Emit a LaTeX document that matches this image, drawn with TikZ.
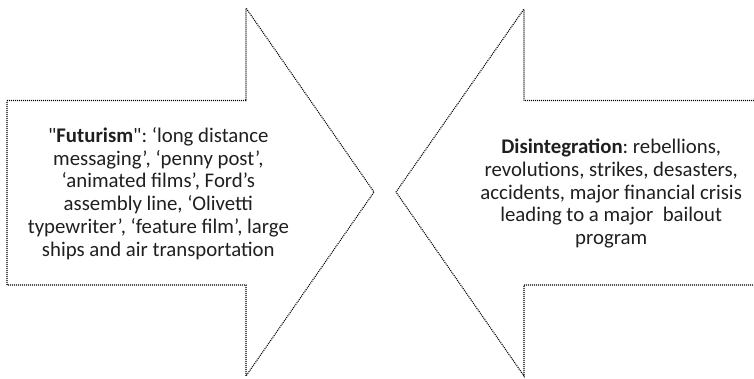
\documentclass[tikz,border=0pt]{standalone}
\usepackage{fontspec}
\setmainfont{Carlito}[Ligatures=TeXOff]
\frenchspacing
\begin{document}
\begin{tikzpicture}[x=1pt,y=-1pt,
  arrowline/.style={draw=black, line width=1.1pt, dash pattern=on 1pt off 1pt},
  txt/.style={align=center, font=\fontsize{20.8}{22.8}\selectfont\frenchspacing, text=black!88, inner sep=0pt}]
\useasboundingbox (0,0) rectangle (754,378);
% left arrow (pointing right)
\draw[arrowline] (7,100.5) -- (246,100.5) -- (246,8) -- (374,192) -- (246,376) -- (246,285) -- (7,285) -- cycle;
% right arrow (pointing left)
\draw[arrowline] (758,100.5) -- (524,100.5) -- (524,9) -- (396,192) -- (524,376) -- (524,285) -- (758,285);
\node[txt] (fut) at (158.3,193.5) {"\textbf{Futurism}": ‘long distance\\messaging’, ‘penny post’,\\‘animated films’, Ford’s\\assembly line, ‘Olivetti\\typewriter’, ‘feature film’, large\\ships and air transportation};
\node[txt] (dis) at (611.2,193.5) {\textbf{Disintegration}: rebellions,\\revolutions, strikes, desasters,\\accidents, major financial crisis\\leading to a major\ \ bailout\\program};
\end{tikzpicture}
\end{document}
